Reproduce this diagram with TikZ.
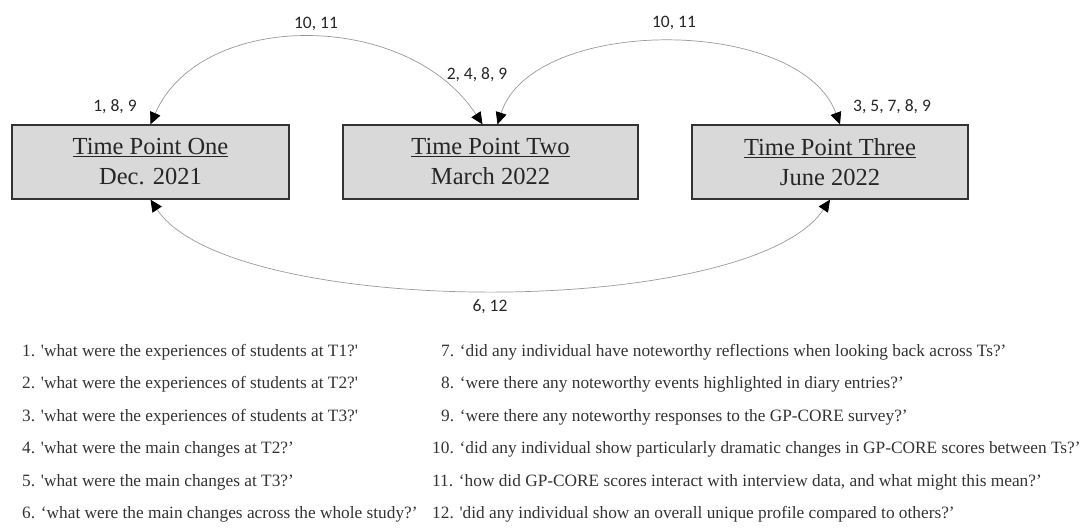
\documentclass[tikz,border=0pt]{standalone}
\usepackage{fontspec}
\setmainfont{Liberation Serif}
\newfontfamily\labelfont{Carlito}
\usetikzlibrary{arrows.meta}

\tikzset{
  period/.style={draw=black!80, line width=1.3pt, fill=black!15,
    minimum height=74pt, align=center, inner sep=0pt,
    font=\fontsize{24.5}{30}\selectfont, text=black!85},
  link/.style={draw=black!40, line width=0.7pt, {Triangle[length=12pt,width=11pt,color=black,fill=black]}-{Triangle[length=12pt,width=11pt,color=black,fill=black]}},
  tag/.style={font=\labelfont\fontsize{17.5}{20}\selectfont, text=black!85, inner sep=0pt},
  question/.style={anchor=west, font=\fontsize{17.3}{20}\selectfont, text=black!80, inner sep=0pt}
}

\begin{document}
\begin{tikzpicture}[x=1pt, y=-1pt]
\useasboundingbox (0,0) rectangle (1084,530);

% the three time points
\node[period, minimum width=277pt] (t1) at (150.5,162) {\underline{Time Point One}\\Dec. 2021};
\node[period, minimum width=295pt] (t2) at (490.5,162) {\underline{Time Point Two}\\March 2022};
\node[period, minimum width=276pt] (t3) at (830,162) {\underline{Time Point Three}\\June 2022};

% anchor points on the tops of the boxes
\coordinate (t2a) at ([xshift=-8pt]t2.north);
\coordinate (t2b) at ([xshift=7pt]t2.north);
\coordinate (t3a) at ([xshift=10pt]t3.north);

% links between time points
\draw[link] (t1.north) .. controls +(50,-115) and +(-75,-115) .. (t2a);
\draw[link] (t2b) .. controls +(35,-109) and +(-40,-109) .. (t3a);
\draw[link] (t1.south) .. controls +(80,120) and +(-80,120) .. (t3.south);

% question numbers
\node[tag] (l1) at (115,107) {1, 8, 9};
\node[tag] (l2) at (316,24) {10, 11};
\node[tag] (l3) at (477,75) {2, 4, 8, 9};
\node[tag] (l4) at (674,23) {10, 11};
\node[tag] (l5) at (892,107) {3, 5, 7, 8, 9};
\node[tag] (l6) at (490,307) {6, 12};

% list of questions
\node[question] (q1) at (22,352) {1. \textquotesingle what were the experiences of students at T1?\textquotesingle};
\node[question] (q2) at (22,384.5) {2. \textquotesingle what were the experiences of students at T2?\textquotesingle};
\node[question] (q3) at (22,417) {3. \textquotesingle what were the experiences of students at T3?\textquotesingle};
\node[question] (q4) at (22,449.5) {4. \textquotesingle what were the main changes at T2?’};
\node[question] (q5) at (22,482) {5. \textquotesingle what were the main changes at T3?’};
\node[question] (q6) at (22,514.5) {6. ‘what were the main changes across the whole study?’};
\node[question] (q7) at (441,352) {7. ‘did any individual have noteworthy reflections when looking back across Ts?’};
\node[question] (q8) at (441,384.5) {8. ‘were there any noteworthy events highlighted in diary entries?’};
\node[question] (q9) at (441,417) {9. ‘were there any noteworthy responses to the GP-CORE survey?’};
\node[question] (q10) at (432,449.5) {10. ‘did any individual show particularly dramatic changes in GP-CORE scores between Ts?’};
\node[question] (q11) at (432,482) {11. ‘how did GP-CORE scores interact with interview data, and what might this mean?’};
\node[question] (q12) at (432,514.5) {12. \textquotesingle did any individual show an overall unique profile compared to others?’};
\end{tikzpicture}
\end{document}
